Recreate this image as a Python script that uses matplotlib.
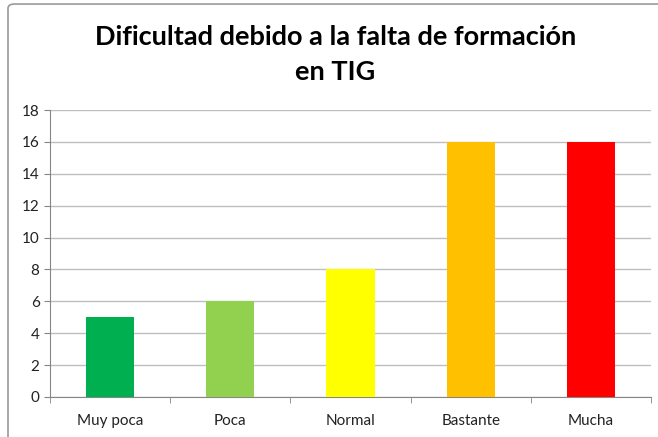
import matplotlib.pyplot as plt
from matplotlib.patches import FancyBboxPatch

categorias = ['Muy poca', 'Poca', 'Normal', 'Bastante', 'Mucha']
valores = [5, 6, 8, 16, 16]
colores = ['#00B050', '#92D050', '#FFFF00', '#FFC000', '#FF0000']
yticks = [0, 2, 4, 6, 8, 10, 12, 14, 16, 18]

plt.rcParams['font.family'] = ['Lato', 'DejaVu Sans']

fig = plt.figure(figsize=(6.58, 4.37), dpi=100)
ax = fig.add_axes([50 / 658, 40 / 437, 601 / 658, 287 / 437])

# marco del grafico
marco = FancyBboxPatch((8 / 658, -0.02), 660 / 658, 1.0108,
                       boxstyle='round,pad=0,rounding_size=0.01',
                       transform=fig.transFigure, fill=False,
                       edgecolor='#9A9A9A', linewidth=1.2)
fig.patches.append(marco)

x = range(len(categorias))
ax.bar(x, valores, width=0.4, color=colores, zorder=3)
ax.set_xlim(-0.5, 4.5)
ax.set_ylim(0, 18)
ax.set_yticks(yticks)
ax.yaxis.grid(True, color='#BFBFBF', linewidth=1)
ax.set_axisbelow(True)

ax.set_xticks(x)
ax.set_xticklabels(categorias, fontsize=11)
ax.tick_params(axis='x', length=0, pad=12, colors='#222222')
ax.set_xticks([i - 0.5 for i in range(6)], minor=True)
ax.tick_params(axis='x', which='minor', length=4, color='#868686')
ax.tick_params(axis='y', length=4, color='#868686', labelsize=11,
               labelcolor='#222222')

for s in ['top', 'right']:
    ax.spines[s].set_visible(False)
ax.spines['left'].set_color('#868686')
ax.spines['bottom'].set_color('#868686')

fig.text(0.51, 0.915, 'Dificultad debido a la falta de formación',
         ha='center', va='center', fontsize=19.5, fontweight='bold')
fig.text(0.51, 0.835, 'en TIG', ha='center', va='center',
         fontsize=19.5, fontweight='bold')

plt.savefig('out.png', dpi=100)
